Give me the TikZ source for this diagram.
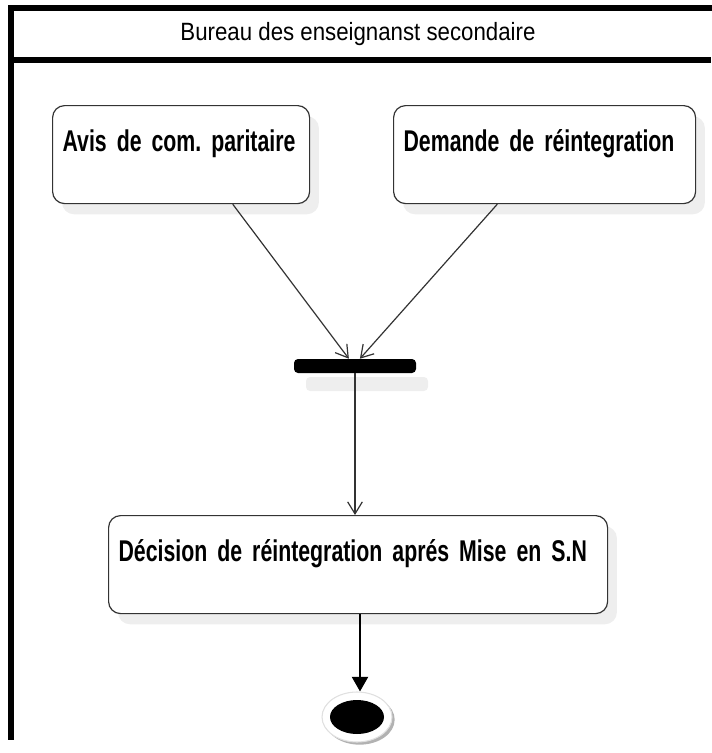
\documentclass[tikz,border=0pt]{standalone}
\usepackage{fontspec}
\setmainfont{Liberation Sans}
\newfontfamily\hdrfont[FakeStretch=0.89]{Liberation Sans}
\newfontfamily\boxfont[FakeStretch=0.71]{Liberation Sans}
\usetikzlibrary{arrows.meta,shadows,shapes.geometric,calc}
\definecolor{edgegray}{HTML}{333333}
\definecolor{shadowgray}{HTML}{EEEEEE}
\frenchspacing
\tikzset{
  frameline/.style={line width=4.5pt, line join=miter, line cap=rect},
  actbox/.style={draw=edgegray, line width=0.9pt, fill=white, rounded corners=9pt,
    anchor=north west, align=left, inner xsep=7.5pt, inner ysep=17.25pt,
    text height=17pt, text depth=22pt,
    font=\boxfont\bfseries\fontsize{22.5pt}{26pt}\selectfont,
    drop shadow={shadow xshift=7pt, shadow yshift=-8pt, fill=shadowgray, opacity=1}},
  flow/.style={draw=edgegray, line width=0.9pt, -{Straight Barb[length=9pt,width=11pt,line width=0.9pt]}},
  bar/.style={fill=black, rounded corners=3pt, minimum width=91.5pt, minimum height=10.5pt, inner sep=0pt,
    drop shadow={shadow xshift=9pt, shadow yshift=-13.5pt, fill=shadowgray, opacity=1}},
}
\begin{document}
\begin{tikzpicture}[x=0.75pt, y=-0.75pt]
\useasboundingbox (0,0) rectangle (711,753);
% swimlane frame
\draw[frameline] (711,7.5) -- (11,7.5) -- (11,737);
\draw[frameline, line cap=butt] (11,59.5) -- (711,59.5);
\node (lane) at (358,34) {\hdrfont\fontsize{18.75pt}{22pt}\selectfont Bureau des enseignanst secondaire};
% activities
\node[actbox, text width=177.75pt] (avis) at (52,105) {\mbox{Avis de com. paritaire}};
\node[actbox, text width=211.5pt] (dem) at (393,105) {\mbox{Demande de réintegration}};
\node[bar] (sync) at (355,366) {};
\node[actbox, text width=359.25pt] (dec) at (108,515) {\mbox{Décision de réintegration aprés Mise en S.N}};
% final node
\node[ellipse, fill=white, draw=black!12, line width=0.8pt, minimum width=52.5pt, minimum height=37.5pt, inner sep=0pt,
  drop shadow={shadow xshift=2pt, shadow yshift=-2pt, fill=black!30, opacity=1}] (endring) at (357,717) {};
\node[ellipse, fill=black, minimum width=40.5pt, minimum height=25.5pt, inner sep=0pt] (end) at (357,717) {};
% flows
\draw[flow] ($(avis.south west)!0.70!(avis.south east)$) -- ($(sync.north west)!0.45!(sync.north east)$);
\draw[flow] ($(dem.south west)!0.344!(dem.south east)$) -- ($(sync.north west)!0.54!(sync.north east)$);
\draw[flow] (sync.south) -- (sync.south |- dec.north);
\draw[line width=1.8pt, -{Triangle[length=11pt,width=12pt]}] (dec.south -| 360,0) -- (endring.north -| 360,0);
\end{tikzpicture}
\end{document}
